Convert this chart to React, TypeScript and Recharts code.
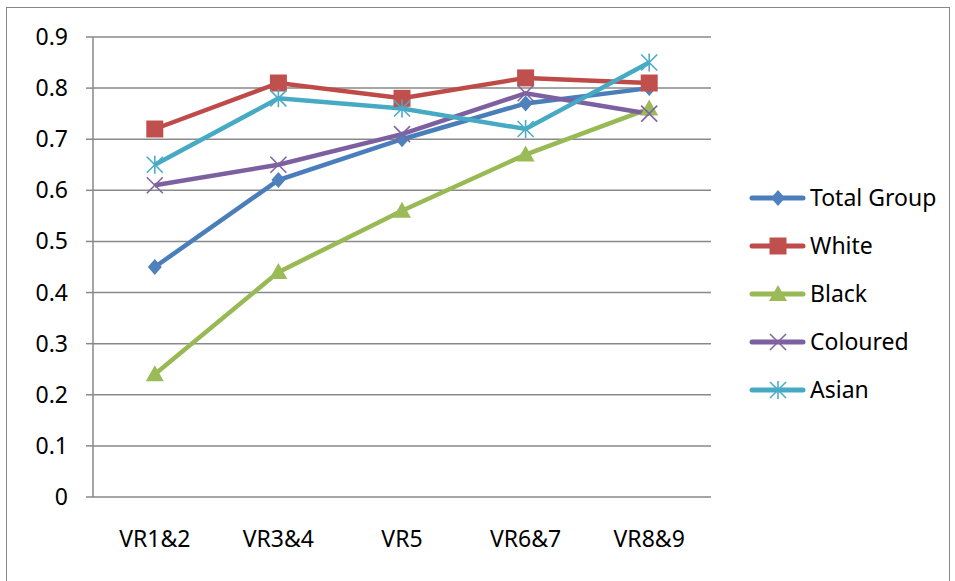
import React from 'react';
import { LineChart, Line, XAxis, YAxis, CartesianGrid, Legend } from 'recharts';

const categories = ['VR1&2', 'VR3&4', 'VR5', 'VR6&7', 'VR8&9'];
const totalGroup = [0.45, 0.62, 0.70, 0.77, 0.80];
const white = [0.72, 0.81, 0.78, 0.82, 0.81];
const black = [0.24, 0.44, 0.56, 0.67, 0.76];
const coloured = [0.61, 0.65, 0.71, 0.79, 0.75];
const asian = [0.65, 0.78, 0.76, 0.72, 0.85];
const yTicks = [0, 0.1, 0.2, 0.3, 0.4, 0.5, 0.6, 0.7, 0.8, 0.9];
const boundTicks = [0, 1, 2, 3, 4, 5];

const data = categories.map((c, i) => ({
  cat: c,
  total: totalGroup[i],
  white: white[i],
  black: black[i],
  coloured: coloured[i],
  asian: asian[i],
}));

const FONT = '"Noto Sans", sans-serif';
const GRID = '#898989';

type Shape = 'diamond' | 'square' | 'triangle' | 'x' | 'star';

const series: { key: string; name: string; color: string; marker: string; shape: Shape }[] = [
  { key: 'total', name: 'Total Group', color: '#4A7EBB', marker: '#4F81BD', shape: 'diamond' },
  { key: 'white', name: 'White', color: '#BE4B48', marker: '#C0504D', shape: 'square' },
  { key: 'black', name: 'Black', color: '#98B954', marker: '#9BBB59', shape: 'triangle' },
  { key: 'coloured', name: 'Coloured', color: '#7D60A0', marker: '#8064A2', shape: 'x' },
  { key: 'asian', name: 'Asian', color: '#46AAC5', marker: '#4BACC6', shape: 'star' },
];

function Marker({ cx, cy, shape, color }: { cx: number; cy: number; shape: Shape; color: string }) {
  if (cx == null || cy == null) return null;
  switch (shape) {
    case 'diamond':
      return <path d={`M${cx},${cy - 8} L${cx + 7},${cy} L${cx},${cy + 8} L${cx - 7},${cy} Z`} fill={color} />;
    case 'square':
      return <rect x={cx - 8.5} y={cy - 8.5} width={17} height={17} fill={color} />;
    case 'triangle':
      return <path d={`M${cx},${cy - 9} L${cx + 9},${cy + 7} L${cx - 9},${cy + 7} Z`} fill={color} />;
    case 'x':
      return (
        <g stroke={color} strokeWidth={1.6}>
          <line x1={cx - 8} y1={cy - 8} x2={cx + 8} y2={cy + 8} />
          <line x1={cx - 8} y1={cy + 8} x2={cx + 8} y2={cy - 8} />
        </g>
      );
    case 'star':
      return (
        <g stroke={color} strokeWidth={1.6}>
          <line x1={cx - 8} y1={cy - 8} x2={cx + 8} y2={cy + 8} />
          <line x1={cx - 8} y1={cy + 8} x2={cx + 8} y2={cy - 8} />
          <line x1={cx} y1={cy - 9} x2={cx} y2={cy + 9} />
        </g>
      );
  }
  return null;
}

const XTick = (props: any) => {
  const { x, y, payload } = props;
  return (
    <text x={x} y={y} dy={50} textAnchor="middle" fontFamily={FONT} fontSize={23} fill="#000">
      {payload.value}
    </text>
  );
};

const YTick = (props: any) => {
  const { x, y, payload } = props;
  return (
    <text x={x} y={y} dy={8} textAnchor="end" fontFamily={FONT} fontSize={23} fill="#000">
      {String(payload.value)}
    </text>
  );
};

const LegendContent = () => (
  <svg width={200} height={240} style={{ overflow: 'visible' }}>
    {series.map((s, i) => {
      const y = 28 + i * 48;
      return (
        <g key={s.key}>
          <line x1={9} y1={y} x2={60} y2={y} stroke={s.color} strokeWidth={5} strokeLinecap="round" />
          <Marker cx={35} cy={y} shape={s.shape} color={s.marker} />
          <text x={67} y={y} dy={8} fontFamily={FONT} fontSize={23} fill="#000">
            {s.name}
          </text>
        </g>
      );
    })}
  </svg>
);

export default function App() {
  return (
    <div style={{ position: 'absolute', left: 0, top: 0, width: 955, height: 581, background: '#fff', overflow: 'hidden' }}>
      <div
        style={{
          position: 'absolute',
          left: 6,
          top: 7,
          width: 944,
          height: 600,
          border: '1.5px solid #878787',
          boxSizing: 'border-box',
        }}
      />
      <LineChart
        width={955}
        height={581}
        data={data}
        margin={{ top: 37, right: 244, bottom: 44, left: 33 }}
        style={{ position: 'absolute', left: 0, top: 0 }}
      >
        <CartesianGrid vertical={false} stroke={GRID} strokeWidth={1.5} />
        <XAxis
          xAxisId="b"
          type="number"
          domain={[0, 5]}
          ticks={boundTicks}
          tick={false}
          height={0}
          tickSize={8}
          stroke={GRID}
          strokeWidth={1.5}
          allowDataOverflow
        />
        <XAxis
          dataKey="cat"
          scale="band"
          height={40}
          tickLine={false}
          axisLine={false}
          tickSize={0}
          tickMargin={0}
          tick={<XTick />}
          interval={0}
        />
        <YAxis
          width={60}
          domain={[0, 0.9]}
          ticks={yTicks}
          tickSize={7}
          tickMargin={18}
          tick={<YTick />}
          stroke={GRID}
          strokeWidth={1.5}
          interval={0}
        />
        <Legend
          layout="vertical"
          align="center"
          verticalAlign="middle"
          content={<LegendContent />}
          wrapperStyle={{ left: 743, top: 170, width: 200, height: 240 }}
        />
        {series.map((s) => (
          <Line
            key={s.key}
            dataKey={s.key}
            name={s.name}
            stroke={s.color}
            strokeWidth={4.5}
            isAnimationActive={false}
            dot={(p: any) => <Marker key={`${s.key}-${p.index}`} cx={p.cx} cy={p.cy} shape={s.shape} color={s.marker} />}
            activeDot={false}
          />
        ))}
      </LineChart>
    </div>
  );
}
